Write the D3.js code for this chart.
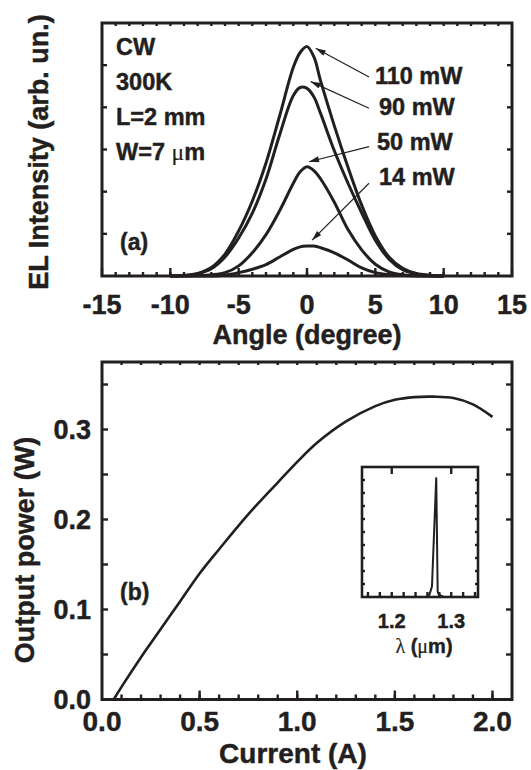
<!DOCTYPE html>
<meta charset="utf-8">
<head>
  <title>EL far field and L-I curve</title>
</head>
<style>
body { margin: 0; background: #fff; }
text { font-family: "Liberation Sans", Arial, sans-serif; font-weight: bold; fill: #231f20; stroke: #231f20; stroke-width: 0.45px; }
.frame { fill: none; stroke: #231f20; stroke-width: 3; }
.tick { stroke: #231f20; stroke-width: 2.4; }
.curve { fill: none; stroke: #231f20; stroke-width: 3; stroke-linejoin: round; }
.arrow { stroke: #231f20; stroke-width: 1.2; }
</style>
<body>
<svg width="531" height="770"></svg>
<script src="https://cdn.jsdelivr.net/npm/d3@7"></script>
<script>
// (a) far-field profiles, angle in degrees, intensity in arb. units
var angle = [-10, -9, -8, -7, -6, -5, -4, -3, -2, -1, -0.5, 0, 0.5, 1, 2, 3, 4, 5, 6, 7, 8, 9, 10];
var el110 = [0, 0.01, 0.06, 0.2, 0.52, 1.07, 1.78, 2.68, 3.8, 4.95, 5.3, 5.44, 5.2, 4.62, 3.56, 2.58, 1.68, 0.95, 0.45, 0.18, 0.06, 0.02, 0];
var el90  = [0, 0.01, 0.05, 0.17, 0.45, 0.9, 1.49, 2.3, 3.35, 4.28, 4.47, 4.45, 4.25, 3.85, 2.97, 2.2, 1.5, 0.85, 0.4, 0.15, 0.05, 0.01, 0];
var el50  = [0, 0, 0.01, 0.03, 0.08, 0.24, 0.55, 0.98, 1.55, 2.2, 2.47, 2.59, 2.5, 2.3, 1.75, 1.1, 0.62, 0.28, 0.1, 0.03, 0.01, 0, 0];
var el14  = [0, 0, 0, 0, 0.02, 0.08, 0.16, 0.27, 0.45, 0.63, 0.69, 0.71, 0.71, 0.67, 0.55, 0.38, 0.19, 0.08, 0.03, 0.01, 0, 0, 0];
var powerLabels = ["110 mW", "90 mW", "50 mW", "14 mW"];
var angleTicks = [-15, -10, -5, 0, 5, 10, 15];

// (b) L-I curve
var current = [0.06, 0.1, 0.2, 0.3, 0.4, 0.5, 0.6, 0.75, 0.9, 1.0, 1.1, 1.25, 1.4, 1.5, 1.6, 1.7, 1.8, 1.9, 2.0];
var power   = [0, 0.014, 0.047, 0.078, 0.109, 0.14, 0.167, 0.206, 0.241, 0.264, 0.285, 0.309, 0.326, 0.333, 0.336, 0.3365, 0.335, 0.328, 0.314];
var currentTicks = [0, 0.5, 1.0, 1.5, 2.0];
var powerTicks = [0, 0.1, 0.2, 0.3];

// inset spectrum
var lambda = [1.15, 1.26, 1.2635, 1.2676, 1.2748, 1.2772, 1.279, 1.283, 1.287, 1.345];
var spec   = [0, 0, 0.02, 0.08, 0.92, 0.04, 0.02, 0.01, 0, 0];
var lambdaTicks = [1.2, 1.3];

var svg = d3.select("svg");

function tickMarks(g, values, pos, orient, len) {
  g.selectAll(null).data(values).enter().append("line")
    .attr("class", "tick")
    .attr("x1", function(d) { return orient.h ? pos(d) : orient.at; })
    .attr("x2", function(d) { return orient.h ? pos(d) : orient.at + orient.dir * len; })
    .attr("y1", function(d) { return orient.h ? orient.at : pos(d); })
    .attr("y2", function(d) { return orient.h ? orient.at + orient.dir * len : pos(d); });
}

function frame(g, x, y, minor, major, minorLen, majorLen) {
  var x0 = x.range()[0], x1 = x.range()[1], y0 = y.range()[0], y1 = y.range()[1];
  tickMarks(g, minor.x, x, {h: true, at: y0, dir: -1}, minorLen);
  tickMarks(g, major.x, x, {h: true, at: y0, dir: -1}, majorLen);
  tickMarks(g, minor.xTop, x, {h: true, at: y1, dir: 1}, minor.topLen || minorLen);
  tickMarks(g, minor.y, y, {h: false, at: x0, dir: 1}, minor.yLen || minorLen);
  tickMarks(g, minor.y, y, {h: false, at: x1, dir: -1}, minor.yLen || minorLen);
  g.append("rect").attr("class", "frame")
    .attr("x", x0).attr("y", y1).attr("width", x1 - x0).attr("height", y0 - y1);
}

function rng(a, b, s) {
  return d3.range(Math.round((b - a) / s) + 1).map(function(i) { return +(a + i * s).toFixed(4); });
}

// ---------- panel (a) ----------
var xa = d3.scaleLinear().domain([-15, 15]).range([102, 512]);
var ya = d3.scaleLinear().domain([0, 6]).range([276, 23]);
var ga = svg.append("g");

var lineA = d3.line().x(function(d) { return xa(d[0]); }).y(function(d) { return ya(d[1]); })
  .curve(d3.curveCatmullRom.alpha(0.5));
[el110, el90, el50, el14].forEach(function(s) {
  ga.append("path").attr("class", "curve")
    .attr("d", lineA(angle.map(function(a, i) { return [a, s[i]]; })));
});

frame(ga, xa, ya,
  {x: rng(-14, 14, 1), xTop: rng(-14, 14, 1), y: [1, 2, 3, 4, 5], topLen: 3, yLen: 5},
  {x: angleTicks}, 4, 8);

ga.selectAll(".xl").data(angleTicks).enter().append("text")
  .attr("x", function(d) { return xa(d); }).attr("y", 314)
  .attr("text-anchor", "middle").style("font-size", "27px")
  .text(function(d) { return d; });

ga.append("text").attr("x", 307).attr("y", 344).attr("text-anchor", "middle")
  .style("font-size", "27px").text("Angle (degree)");
ga.append("text").attr("transform", "translate(48,152) rotate(-90)")
  .attr("text-anchor", "middle").style("font-size", "27px").text("EL Intensity (arb. un.)");

var conditions = ["CW", "300K", "L=2 mm"];
conditions.forEach(function(t, i) {
  ga.append("text").attr("x", 116).attr("y", 55 + i * 35).style("font-size", "23.5px").text(t);
});
var wt = ga.append("text").attr("x", 116).attr("y", 160).style("font-size", "23.5px");
wt.append("tspan").text("W=7 ");
wt.append("tspan").style("font-family", "'Liberation Serif', serif").style("font-weight", "normal").style("stroke-width", "0.2px").text("\u03bc");
wt.append("tspan").text("m");
ga.append("text").attr("x", 120).attr("y", 250).style("font-size", "23px").text("(a)");

// arrows from labels to curves, data coordinates
var arrowTail = [[4.54, 4.72], [4.54, 3.98], [4.54, 3.07], [4.54, 2.2]];
var arrowHead = [[0.64, 5.40], [0.27, 4.61], [0.15, 2.71], [0.37, 0.85]];
var labelPos  = [[4.97, 4.56], [5.27, 3.82], [5.12, 2.99], [5.27, 2.16]];

svg.append("defs").append("marker").attr("id", "ah")
  .attr("viewBox", "0 0 10 6").attr("refX", 10).attr("refY", 3)
  .attr("markerWidth", 11).attr("markerHeight", 6).attr("markerUnits", "userSpaceOnUse")
  .attr("orient", "auto")
  .append("path").attr("d", "M0,0L10,3L0,6Z").attr("fill", "#231f20");

powerLabels.forEach(function(t, i) {
  ga.append("line").attr("class", "arrow")
    .attr("x1", xa(arrowTail[i][0])).attr("y1", ya(arrowTail[i][1]))
    .attr("x2", xa(arrowHead[i][0])).attr("y2", ya(arrowHead[i][1]))
    .attr("marker-end", "url(#ah)");
  ga.append("text").attr("x", xa(labelPos[i][0])).attr("y", ya(labelPos[i][1]))
    .style("font-size", "23.5px").text(t);
});

// ---------- panel (b) ----------
var xb = d3.scaleLinear().domain([0, 2.1]).range([102, 512]);
var yb = d3.scaleLinear().domain([0, 0.375]).range([699.5, 362]);
var gb = svg.append("g");

var lineB = d3.line().x(function(d) { return xb(d[0]); }).y(function(d) { return yb(d[1]); })
  .curve(d3.curveCatmullRom.alpha(0.5));
gb.append("path").attr("class", "curve").style("stroke-width", 2.6)
  .attr("d", lineB(current.map(function(c, i) { return [c, power[i]]; })));

frame(gb, xb, yb,
  {x: rng(0.1, 2.0, 0.1), xTop: rng(0.1, 2.0, 0.1), y: rng(0.05, 0.35, 0.05), topLen: 3, yLen: 6},
  {x: currentTicks.slice(1)}, 5, 9);

gb.selectAll(".xl").data(currentTicks).enter().append("text")
  .attr("x", function(d) { return xb(d); }).attr("y", 731)
  .attr("text-anchor", "middle").style("font-size", "28px")
  .text(function(d) { return d.toFixed(1); });
gb.selectAll(".yl").data(powerTicks).enter().append("text")
  .attr("x", 91).attr("y", function(d) { return yb(d); }).attr("dy", "0.36em")
  .attr("text-anchor", "end").style("font-size", "27px")
  .text(function(d) { return d.toFixed(1); });

gb.append("text").attr("x", 293).attr("y", 763).attr("text-anchor", "middle")
  .style("font-size", "28px").text("Current (A)");
gb.append("text").attr("transform", "translate(34,550) rotate(-90)")
  .attr("text-anchor", "middle").style("font-size", "27px").text("Output power (W)");
gb.append("text").attr("x", 120).attr("y", 600).style("font-size", "23px").text("(b)");

// ---------- inset ----------
var xi = d3.scaleLinear().domain([1.15, 1.345]).range([362, 478]);
var yi = d3.scaleLinear().domain([0, 1]).range([597, 467]);
var gi = svg.append("g");

gi.append("path").attr("class", "curve").style("stroke-width", 2).style("stroke-linejoin", "miter")
  .attr("d", d3.line().x(function(d) { return xi(d[0]); }).y(function(d) { return yi(d[1]); })
    (lambda.map(function(l, i) { return [l, spec[i]]; })));

frame(gi, xi, yi,
  {x: rng(1.16, 1.34, 0.02), xTop: [], y: rng(0.1, 0.9, 0.1), yLen: 3},
  {x: []}, 5, 5);
tickMarks(gi, lambdaTicks, xi, {h: true, at: 467, dir: 1}, 7);
gi.selectAll("rect").style("stroke-width", 2.6);

gi.selectAll(".xl").data(lambdaTicks).enter().append("text")
  .attr("x", function(d) { return xi(d); }).attr("y", 628)
  .attr("text-anchor", "middle").style("font-size", "20px")
  .text(function(d) { return d.toFixed(1); });
var lt = gi.append("text").attr("x", 424).attr("y", 653).attr("text-anchor", "middle").style("font-size", "20px");
lt.append("tspan").style("font-family", "'Liberation Serif', serif").style("font-weight", "normal").style("stroke-width", "0.2px").text("\u03bb");
lt.append("tspan").text(" (");
lt.append("tspan").style("font-family", "'Liberation Serif', serif").style("font-weight", "normal").style("stroke-width", "0.2px").text("\u03bc");
lt.append("tspan").text("m)");
</script>
</body>
